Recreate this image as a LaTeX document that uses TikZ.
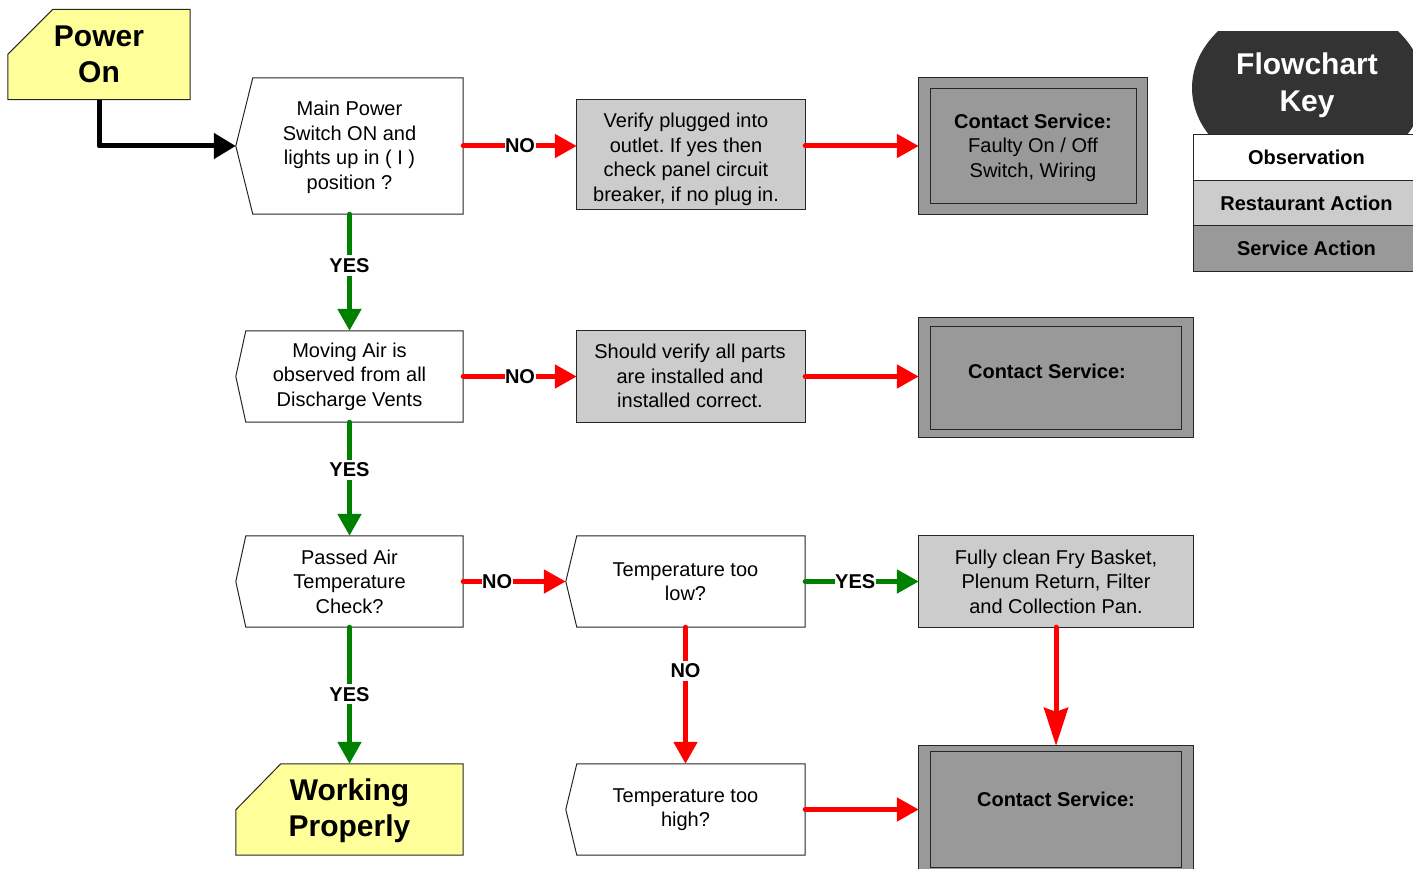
\documentclass[tikz,border=0pt]{standalone}
\usepackage{fontspec}
\setmainfont{Liberation Sans}
\usetikzlibrary{arrows.meta}
\pgfdeclarelayer{background}
\pgfsetlayers{background,main}
\definecolor{yel}{RGB}{255,255,153}
\definecolor{lgray}{RGB}{204,204,204}
\definecolor{mgray}{RGB}{153,153,153}
\definecolor{kdark}{RGB}{51,51,51}
\definecolor{agreen}{RGB}{0,128,0}
\frenchspacing
\begin{document}
\begin{tikzpicture}[x=1pt,y=-1pt,
  txt/.style={font=\fontsize{20}{24.5}\selectfont, align=center, inner sep=0pt},
  btxt/.style={font=\bfseries\fontsize{20}{24.5}\selectfont, align=center, inner sep=0pt},
  bigtxt/.style={font=\bfseries\fontsize{30}{36}\selectfont, align=center, inner sep=0pt},
  outline/.style={draw=black!85, line width=1pt},
  lab/.style={fill=white, inner xsep=0.5pt, inner ysep=3pt, font=\bfseries\fontsize{20}{24}\selectfont},
  ra/.style={draw=red, line width=5pt, line cap=round, -{Triangle[length=22pt,width=23pt]}},
  ga/.style={draw=agreen, line width=5pt, line cap=round, -{Triangle[length=22pt,width=23pt]}},
]
\useasboundingbox (0,0) rectangle (1413,869);

% ---- nodes ----
\node[bigtxt, minimum width=182pt, minimum height=90pt] (pw) at (99,54.5) {Power\\On};
\node[txt, minimum width=227pt, minimum height=136pt] (mp) at (349.5,146) {};
\node[txt] (mpt) at (349.5,147.5) {Main Power\\Switch ON and\\lights up in ( I )\\position ?};
\node[txt, minimum width=228pt, minimum height=109pt] (vf) at (691,154.5) {};
\node[txt] (vft) at (686,159.5) {Verify plugged into\\outlet. If yes then\\check panel circuit\\breaker, if no plug in.};
\node[txt, minimum width=228pt, minimum height=136pt] (cs1) at (1033,146) {};
\node[txt] (cs1t) at (1033,147.5) {\textbf{Contact Service:}\\Faulty On / Off\\Switch, Wiring};

\node[txt, minimum width=227pt, minimum height=91pt] (ma) at (349.5,376.5) {Moving Air is\\observed from all\\Discharge Vents};
\node[txt, minimum width=228pt, minimum height=91pt] (sv) at (691,376.5) {};
\node[txt] (svt) at (690,376) {Should verify all parts\\are installed and\\installed correct.};
\node[minimum width=274pt, minimum height=119pt, inner sep=0pt] (cs2) at (1056,377.5) {};
\node[btxt] (cs2t) at (1047,371) {Contact Service:};

\node[txt, minimum width=227pt, minimum height=91pt] (pa) at (349.5,581.5) {Passed Air\\Temperature\\Check?};
\node[txt, minimum width=239pt, minimum height=91pt] (tl) at (685.5,581.5) {Temperature too\\low?};
\node[txt, minimum width=274pt, minimum height=91pt] (fc) at (1056,581.5) {Fully clean Fry Basket,\\Plenum Return, Filter\\and Collection Pan.};

\node[minimum width=227pt, minimum height=91pt, inner sep=0pt] (wp) at (349.5,809.5) {};
\node[bigtxt] (wpt) at (349.5,811) {Working\\Properly};
\node[txt, minimum width=239pt, minimum height=91pt] (th) at (685.5,809.5) {Temperature too\\high?};
\node[minimum width=274pt, minimum height=130pt, inner sep=0pt] (cs3) at (1056,811) {};
\node[btxt] (cs3t) at (1056,799) {Contact Service:};

% ---- key ----
\begin{scope}
  \clip (1150,32) rectangle (1440,134);
  \fill[kdark] (1308,88) ellipse [x radius=116, y radius=90];
\end{scope}
\node[bigtxt, text=white, font=\bfseries\fontsize{30}{37}\selectfont] (kt) at (1307,85.5) {Flowchart\\Key};
\node[btxt, outline, fill=white, minimum width=227pt, minimum height=45.5pt] (k1) at (1306.5,157.5) {Observation};
\node[btxt, outline, fill=lgray, minimum width=227pt, minimum height=45.5pt] (k2) at (1306.5,203) {Restaurant Action};
\node[btxt, outline, fill=mgray, minimum width=227pt, minimum height=45.5pt] (k3) at (1306.5,248.5) {Service Action};

% ---- shapes (background) ----
\begin{pgfonlayer}{background}
  \filldraw[outline, fill=yel] (pw.south west) -- ([yshift=-45pt]pw.north west) -- ([xshift=45pt]pw.north west) -- (pw.north east) -- (pw.south east) -- cycle;
  \filldraw[outline, fill=white] ([xshift=17pt]mp.north west) -- (mp.north east) -- (mp.south east) -- ([xshift=17pt]mp.south west) -- (mp.west) -- cycle;
  \filldraw[outline, fill=lgray] (vf.north west) rectangle (vf.south east);
  \filldraw[outline, fill=mgray] (cs1.north west) rectangle (cs1.south east);
  \draw[outline] ([xshift=12pt,yshift=-11pt]cs1.north west) rectangle ([xshift=-11pt,yshift=11pt]cs1.south east);

  \filldraw[outline, fill=white] ([xshift=10pt]ma.north west) -- (ma.north east) -- (ma.south east) -- ([xshift=10pt]ma.south west) -- (ma.west) -- cycle;
  \filldraw[outline, fill=lgray] (sv.north west) rectangle (sv.south east);
  \filldraw[outline, fill=mgray] (cs2.north west) rectangle (cs2.south east);
  \draw[outline] ([xshift=12pt,yshift=-9pt]cs2.north west) rectangle ([xshift=-12pt,yshift=8pt]cs2.south east);

  \filldraw[outline, fill=white] ([xshift=10pt]pa.north west) -- (pa.north east) -- (pa.south east) -- ([xshift=10pt]pa.south west) -- (pa.west) -- cycle;
  \filldraw[outline, fill=white] ([xshift=11pt]tl.north west) -- (tl.north east) -- (tl.south east) -- ([xshift=11pt]tl.south west) -- (tl.west) -- cycle;
  \filldraw[outline, fill=lgray] (fc.north west) rectangle (fc.south east);

  \filldraw[outline, fill=yel] (wp.south west) -- ([yshift=-46pt]wp.north west) -- ([xshift=45pt]wp.north west) -- (wp.north east) -- (wp.south east) -- cycle;
  \filldraw[outline, fill=white] ([xshift=11pt]th.north west) -- (th.north east) -- (th.south east) -- ([xshift=11pt]th.south west) -- (th.west) -- cycle;
  \filldraw[outline, fill=mgray] (cs3.north west) rectangle (cs3.south east);
  \draw[outline] ([xshift=12pt,yshift=-6pt]cs3.north west) rectangle ([xshift=-12pt,yshift=9pt]cs3.south east);
\end{pgfonlayer}

% ---- connectors ----
\draw[line width=5pt, line join=round, -{Triangle[length=22pt,width=25pt]}] (pw.south) |- (mp.west);
\draw[ra] (mp.east) -- node[lab]{NO} (mp.east -| vf.west);
\draw[ra] (mp.east -| vf.east) -- (mp.east -| cs1.west);
\draw[ga] (mp.south) -- node[lab,pos=0.44]{YES} (ma.north);
\draw[ra] (ma.east) -- node[lab]{NO} (sv.west);
\draw[ra] (sv.east) -- (sv.east -| cs2.west);
\draw[ga] (ma.south) -- node[lab,pos=0.42]{YES} (pa.north);
\draw[ra] (pa.east) -- node[lab,pos=0.33]{NO} (tl.west);
\draw[ga] (pa.south) -- node[lab,pos=0.49]{YES} (wp.north);
\draw[ga] (tl.east) -- node[lab,pos=0.44]{YES} (fc.west);
\draw[ra] (tl.south) -- node[lab,pos=0.32]{NO} (th.north);
\draw[ra, -{Stealth[length=38pt,width=24pt,inset=4pt]}] (fc.south) -- (cs3.north);
\draw[ra] (th.east) -- (th.east -| cs3.west);
\end{tikzpicture}
\end{document}
